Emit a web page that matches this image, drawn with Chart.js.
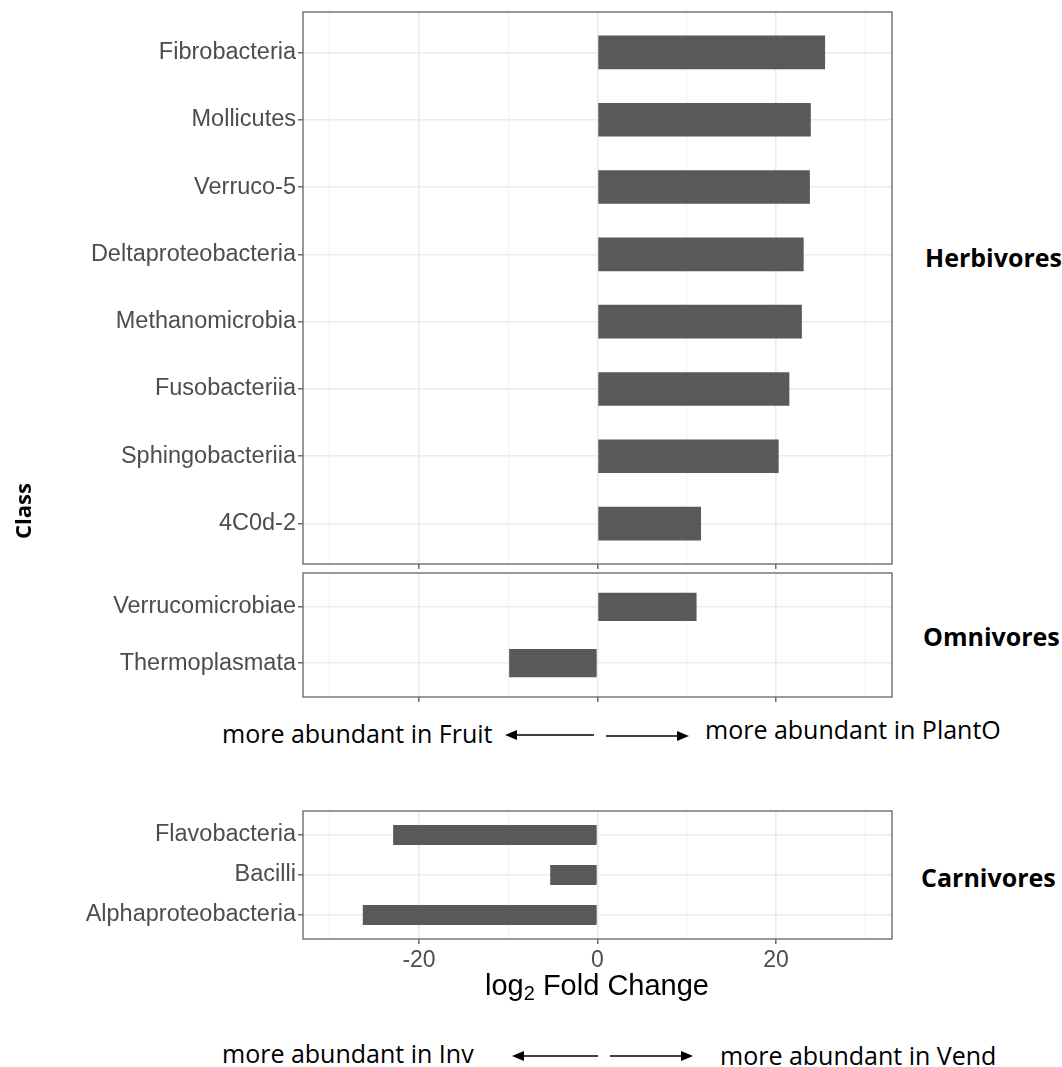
<!DOCTYPE html>
<html>
<head>
<meta charset="utf-8">
<script src="https://cdn.jsdelivr.net/npm/chart.js@4"></script>
<style>
  html, body { margin: 0; padding: 0; background: #fff; }
  #page { position: relative; width: 1062px; height: 1067px; overflow: hidden; background: #fff; }
  canvas { position: absolute; left: 0; }
  .strip { position: absolute; font-family: "Open Sans", sans-serif; font-weight: bold; font-size: 25px; color: #000; white-space: nowrap; line-height: 1; }
  .note { position: absolute; font-family: "Open Sans", sans-serif; font-size: 25px; color: #000; white-space: nowrap; line-height: 1; }
  #ytitle { position: absolute; left: 22px; top: 511px; transform: translate(-50%, -50%) rotate(-90deg); font-family: "Open Sans", sans-serif; font-weight: bold; font-size: 22px; white-space: nowrap; line-height: 1; }
  #xtitle { position: absolute; left: 597px; top: 985px; transform: translate(-50%, -50%); font-family: "Liberation Sans", Arial, sans-serif; font-size: 29px; color: #000; white-space: nowrap; }
  #xtitle sub { font-size: 20px; vertical-align: -5px; line-height: 0; }
  svg { position: absolute; left: 0; top: 0; }
</style>
</head>
<body>
<div id="page">
  <canvas id="herb" width="900" height="572" style="top:0px"></canvas>
  <canvas id="omni" width="900" height="140" style="top:565px"></canvas>
  <canvas id="carn" width="900" height="180" style="top:800px"></canvas>

  <div id="ytitle">Class</div>
  <div id="xtitle">log<sub>2</sub> Fold Change</div>

  <div class="strip" style="left:925px; top:245px">Herbivores</div>
  <div class="strip" style="left:923px; top:624px">Omnivores</div>
  <div class="strip" style="left:921px; top:865px">Carnivores</div>

  <div class="note" style="left:222px; top:721px">more abundant in Fruit</div>
  <div class="note" style="left:705px; top:717px">more abundant in PlantO</div>
  <div class="note" style="left:222px; top:1041px">more abundant in Inv</div>
  <div class="note" style="left:720px; top:1043px">more abundant in Vend</div>

  <svg width="1062" height="1067">
    <g stroke="#000" stroke-width="1.6" fill="#000">
      <line x1="512" y1="735" x2="594" y2="735"/>
      <polygon points="505,735 517,730 517,740" stroke="none"/>
      <line x1="606" y1="736" x2="682" y2="736"/>
      <polygon points="689,736 677,731 677,741" stroke="none"/>

      <line x1="519" y1="1056" x2="598" y2="1056"/>
      <polygon points="512,1056 524,1051 524,1061" stroke="none"/>
      <line x1="610" y1="1056" x2="686" y2="1056"/>
      <polygon points="693,1056 681,1051 681,1061" stroke="none"/>
    </g>
  </svg>
</div>

<script>
// log2 fold change per bacterial class, grouped by diet
const herbivoreClasses = ['Fibrobacteria', 'Mollicutes', 'Verruco-5', 'Deltaproteobacteria',
                          'Methanomicrobia', 'Fusobacteriia', 'Sphingobacteriia', '4C0d-2'];
const herbivoreLfc = [25.5, 23.9, 23.8, 23.1, 22.9, 21.5, 20.3, 11.6];

const omnivoreClasses = ['Verrucomicrobiae', 'Thermoplasmata'];
const omnivoreLfc = [11.1, -9.9];

const carnivoreClasses = ['Flavobacteria', 'Bacilli', 'Alphaproteobacteria'];
const carnivoreLfc = [-22.9, -5.3, -26.3];

// shared x axis
const xLimits = [-33, 33];
const xGridValues = [-30, -20, -10, 0, 10, 20, 30];
const xTickLabels = [-20, 0, 20];

const AXIS_FONT = '"Liberation Sans", Arial, sans-serif';

// frame around each plotting area, drawn above the bars
const panelFrame = {
  id: 'panelFrame',
  afterDatasetsDraw(chart) {
    const a = chart.chartArea;
    const ctx = chart.ctx;
    ctx.save();
    ctx.strokeStyle = '#6e6e6e';
    ctx.lineWidth = 1.4;
    ctx.strokeRect(a.left, a.top, a.right - a.left, a.bottom - a.top);
    ctx.restore();
  }
};

function makePanel(canvasId, classes, values, opts) {
  const points = values.map((v, i) => ({ x: v, y: i + 1 }));
  return new Chart(document.getElementById(canvasId), {
    type: 'bar',
    data: {
      datasets: [{
        data: points,
        backgroundColor: '#595959',
        borderWidth: 0,
        barPercentage: 0.5,
        categoryPercentage: 1.0
      }]
    },
    options: {
      indexAxis: 'y',
      responsive: false,
      animation: false,
      devicePixelRatio: 1,
      layout: { padding: { top: opts.padTop, right: 8, left: 0, bottom: 0 } },
      plugins: { legend: { display: false }, tooltip: { enabled: false } },
      scales: {
        x: {
          type: 'linear',
          min: xLimits[0],
          max: xLimits[1],
          afterBuildTicks(scale) { scale.ticks = xGridValues.map(v => ({ value: v })); },
          afterFit(scale) {
            scale.height = opts.xHeight;
            scale.paddingLeft = 0;
            scale.paddingRight = 0;
          },
          border: { display: false },
          grid: {
            color: ctx => xTickLabels.includes(ctx.tick.value) ? '#ebebeb' : '#f1f1f1',
            lineWidth: ctx => xTickLabels.includes(ctx.tick.value) ? 1.6 : 1.0,
            tickColor: ctx => xTickLabels.includes(ctx.tick.value) ? '#555555' : 'rgba(0,0,0,0)',
            tickLength: 5,
            tickWidth: 1.3
          },
          ticks: {
            display: opts.showX,
            autoSkip: false,
            maxRotation: 0,
            padding: 3,
            color: '#4d4d4d',
            font: { family: AXIS_FONT, size: 23 },
            callback: v => xTickLabels.includes(v) ? String(v) : ''
          }
        },
        y: {
          type: 'linear',
          reverse: true,
          offset: false,
          min: 0.4,
          max: classes.length + 0.6,
          afterBuildTicks(scale) { scale.ticks = classes.map((c, i) => ({ value: i + 1 })); },
          afterFit(scale) {
            scale.width = 303;
            scale.paddingTop = 0;
            scale.paddingBottom = 0;
          },
          border: { display: false },
          grid: {
            offset: false,
            color: '#ebebeb',
            lineWidth: 1.6,
            tickColor: '#555555',
            tickLength: 5,
            tickWidth: 1.3
          },
          ticks: {
            autoSkip: false,
            padding: 2,
            color: '#4d4d4d',
            font: { family: AXIS_FONT, size: 23.5 },
            callback: v => classes[v - 1]
          }
        }
      }
    },
    plugins: [panelFrame]
  });
}

makePanel('herb', herbivoreClasses, herbivoreLfc, { padTop: 12, xHeight: 8, showX: false });
makePanel('omni', omnivoreClasses, omnivoreLfc, { padTop: 8, xHeight: 8, showX: false });
makePanel('carn', carnivoreClasses, carnivoreLfc, { padTop: 11, xHeight: 41, showX: true });
</script>
</body>
</html>
